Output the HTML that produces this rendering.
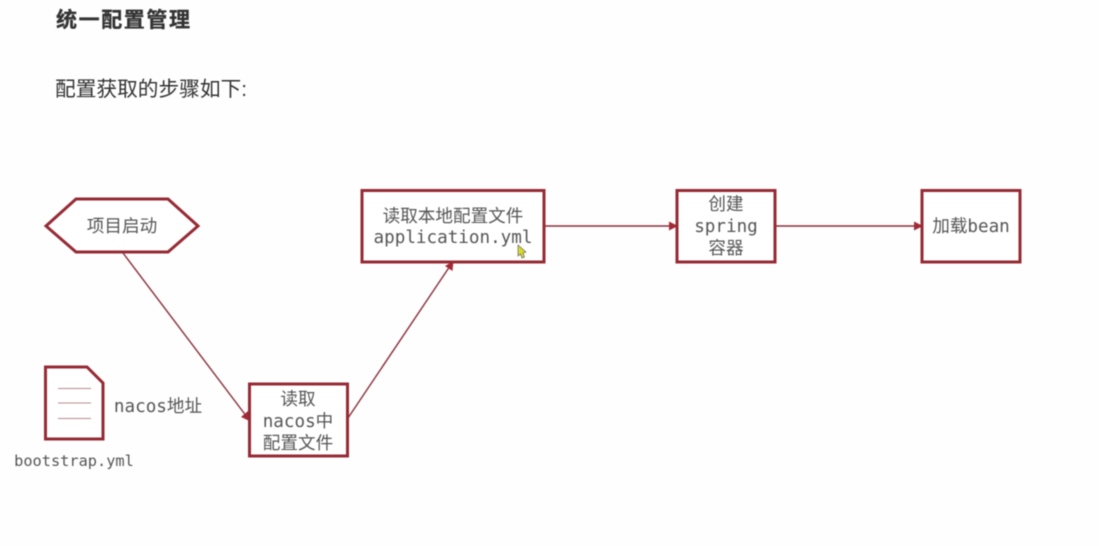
<!DOCTYPE html>
<html>
<head>
<meta charset="utf-8">
<style>
html,body{margin:0;padding:0;background:#fefefe;width:1099px;height:546px;overflow:hidden}
svg{display:block;filter:blur(.5px)}
.t{font-family:"DejaVu Sans Mono","Noto Sans CJK SC",monospace;font-size:17.6px;fill:#555;text-anchor:middle}
.s{fill:#fff;stroke:#962a34;stroke-width:3}
.l{fill:none;stroke:#8a2f3a;stroke-width:1.4}
.a{fill:#a32a35}
</style>
</head>
<body>
<svg width="1099" height="546" viewBox="0 0 1099 546" xmlns="http://www.w3.org/2000/svg">
<rect width="1099" height="546" fill="#fefefe"/>
<text x="56" y="27" style="font-family:'Liberation Sans','Noto Sans CJK SC',sans-serif;font-size:21px;font-weight:700;letter-spacing:1.6px;fill:#333;stroke:#333;stroke-width:.3px">统一配置管理</text>
<text x="55" y="96" style="font-family:'Liberation Sans','Noto Sans CJK SC',sans-serif;font-size:20.700px;fill:#333">配置获取的步骤如下:</text>

<line class="l" x1="123" y1="253" x2="247" y2="417"/>
<polygon class="a" points="250.500,421.500 241,417 248,411"/>
<line class="l" x1="348" y1="418" x2="450" y2="266"/>
<polygon class="a" points="453.500,261 452.500,271 445,266"/>
<line class="l" x1="544" y1="226" x2="672" y2="226"/>
<polygon class="a" points="678,226 669,221.500 669,230.500"/>
<line class="l" x1="775" y1="226" x2="917" y2="226"/>
<polygon class="a" points="923,226 914,221.500 914,230.500"/>

<polygon class="s" points="46,226 76,199 168,199 198,226 168,252 76,252"/>
<text class="t" x="122" y="232">项目启动</text>

<polygon class="s" points="45.500,367 87,367 103,383 103,439 45.500,439"/>
<line x1="58" y1="388.500" x2="91" y2="388.500" stroke="#b98a90" stroke-width="1"/>
<line x1="58" y1="403" x2="91" y2="403" stroke="#b98a90" stroke-width="1"/>
<line x1="58" y1="418.500" x2="91" y2="418.500" stroke="#b98a90" stroke-width="1"/>
<text class="t" x="158" y="412">nacos地址</text>
<text class="t" x="74" y="466" style="font-size:15.300px">bootstrap.yml</text>

<rect class="s" x="249.500" y="384" width="98" height="72"/>
<text class="t" x="298" y="405">读取</text>
<text class="t" x="298" y="427">nacos中</text>
<text class="t" x="298" y="449">配置文件</text>

<rect class="s" x="362" y="190.500" width="182" height="71.500"/>
<text class="t" x="453" y="222">读取本地配置文件</text>
<text class="t" x="453" y="243">application.yml</text>

<rect class="s" x="677" y="190.500" width="98" height="71.500"/>
<text class="t" x="726" y="210">创建</text>
<text class="t" x="726" y="232">spring</text>
<text class="t" x="726" y="254">容器</text>

<rect class="s" x="922" y="190.500" width="98" height="71.500"/>
<text class="t" x="971" y="232">加载bean</text>

<polygon points="518,245 518,256 520.500,254 522,258 524.500,257 523,253 526,252" fill="#d9d92a" stroke="#666" stroke-width=".7"/>
</svg>
</body>
</html>
